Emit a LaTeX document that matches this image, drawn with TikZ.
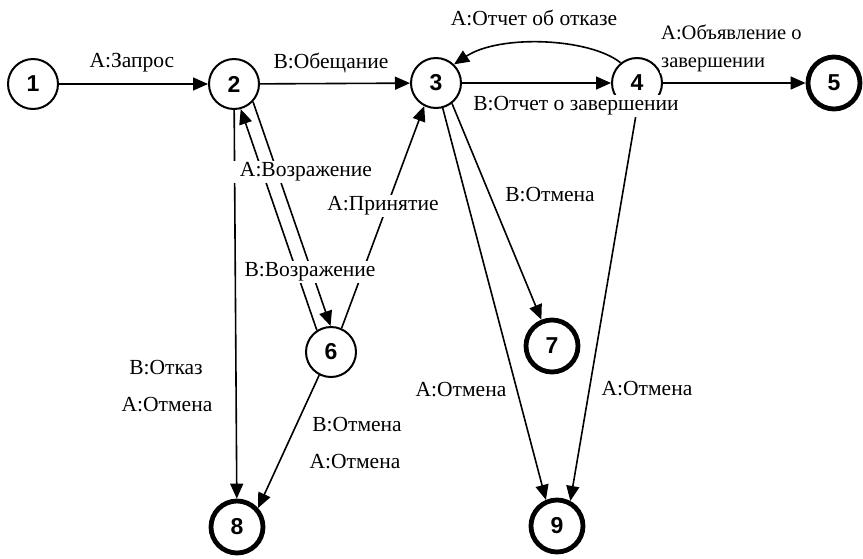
\documentclass[tikz,border=0pt]{standalone}
\usepackage{fontspec}
\setmainfont{Liberation Serif}
\newfontfamily\lblfont{Liberation Serif}
\newfontfamily\numfont{Liberation Sans}
\usetikzlibrary{arrows.meta}
\begin{document}
\begin{tikzpicture}[x=1pt,y=-1pt,
  st/.style={circle,draw,line width=2pt,minimum size=50pt,inner sep=0pt,font=\numfont\bfseries\fontsize{23}{23}\selectfont},
  fin/.style={st,line width=4.8pt,minimum size=52pt},
  lbl/.style={fill=white,inner sep=2pt,font=\lblfont\fontsize{21.5}{24}\selectfont},
  arr/.style={line width=1.6pt,-{Triangle[length=15pt,width=13pt]}}]
\useasboundingbox (0,0) rectangle (863,558);
% states
\node[st]  (n1) at (33,84)  {1};
\node[st]  (n2) at (234,84) {2};
\node[st]  (n3) at (436,83) {3};
\node[st]  (n4) at (637,83) {4};
\node[fin] (n5) at (834,83) {5};
\node[st]  (n6) at (331,352) {6};
\node[fin] (n7) at (552,346) {7};
\node[fin] (n8) at (237,527) {8};
\node[fin] (n9) at (557,526) {9};
% connectors
\draw[arr] (n1) -- (n2);
\draw[arr] (n2) -- (n3);
\draw[arr] (n3) -- (n4);
\draw[arr] (n4) -- (n5);
\draw[arr] (n4.129) .. controls (590,38) and (500,34) .. (n3.46);
\draw[arr] (n6.123) -- (n2.-75);
\draw[arr] (n2.-43) -- (n6.91);
\draw[arr] (n2) -- (n8);
\draw[arr] (n6.-117) -- (n8.42);
\draw[arr] (n6.66) -- (n3.-117);
\draw[arr] (n3.-52) -- (n7.112);
\draw[arr] (n3.-75) -- (n9.113);
\draw[arr] (n4.-90) -- (n9.62);
% labels
\node[lbl] (l12) at (132,63) {A:Запрос};
\node[lbl] (l23) at (331,63) {B:Обещание};
\node[lbl] (l34) at (576,106) {B:Отчет о завершении};
\node[lbl] (l43) at (534,18) {A:Отчет об отказе};
\node[lbl,align=left,anchor=west,inner sep=1pt,font=\lblfont\fontsize{20.5}{28}\selectfont] (l45) at (660,48) {A:Объявление о\\завершении};
\node[lbl,inner xsep=12pt] (l62) at (306,172) {A:Возражение};
\node[lbl] (l26) at (310,272) {B:Возражение};
\node[lbl] (l63) at (383,206) {A:Принятие};
\node[lbl] (l37) at (550,195) {B:Отмена};
\node[lbl] (l39) at (461,390) {A:Отмена};
\node[lbl] (l49) at (647,389) {A:Отмена};
\node[lbl] (l28a) at (166,368) {B:Отказ};
\node[lbl] (l28b) at (167,405) {A:Отмена};
\node[lbl] (l68a) at (357,425) {B:Отмена};
\node[lbl] (l68b) at (355,462) {A:Отмена};
\end{tikzpicture}
\end{document}
